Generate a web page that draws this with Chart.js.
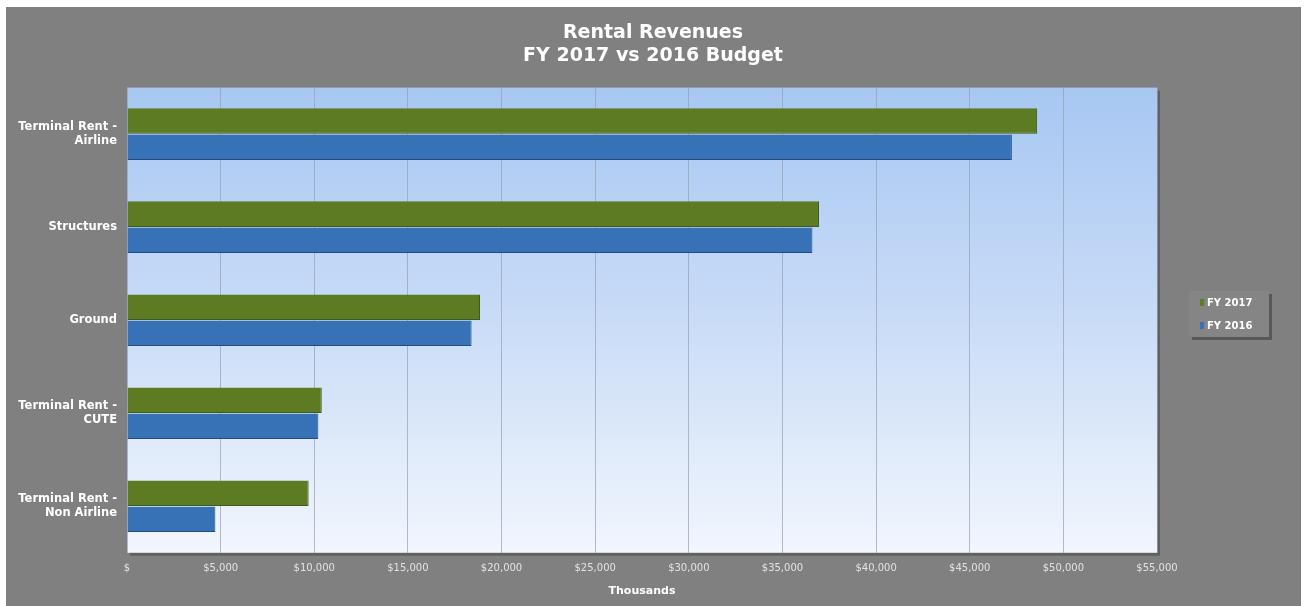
<!DOCTYPE html>
<html>
<head>
<meta charset="utf-8">
<style>
html,body{margin:0;padding:0;background:#fff;}
#wrap{width:1306px;height:606px;position:relative;}
</style>
<script src="https://cdn.jsdelivr.net/npm/chart.js@4/dist/chart.umd.min.js"></script>
</head>
<body>
<div id="wrap"><canvas id="c" width="1306" height="606"></canvas></div>
<script>
const categories = [["Terminal Rent -", "Airline"], "Structures", "Ground", ["Terminal Rent -", "CUTE"], ["Terminal Rent -", "Non Airline"]];
const fy2017 = [48600, 36950, 18850, 10400, 9700];
const fy2016 = [47250, 36600, 18400, 10220, 4720];
const seriesLabels = ["FY 2017", "FY 2016"];
const seriesColors = ["#5c7b22", "#3672b5"];
const tickLabels = ["$", "$5,000", "$10,000", "$15,000", "$20,000", "$25,000", "$30,000", "$35,000", "$40,000", "$45,000", "$50,000", "$55,000"];

function barGrad(ctx, top, mid, bottom) {
  const c = ctx.chart;
  const el = ctx.element;
  if (!c.chartArea || !el || el.y === undefined) return mid;
  const h = el.height || 25;
  const g = c.ctx.createLinearGradient(0, el.y - h / 2, 0, el.y + h / 2);
  g.addColorStop(0, top);
  g.addColorStop(0.18, mid);
  g.addColorStop(0.8, mid);
  g.addColorStop(1, bottom);
  return g;
}

const bgPlugin = {
  id: 'bg',
  beforeDraw(chart) {
    const ctx = chart.ctx;
    ctx.save();
    ctx.fillStyle = '#ffffff';
    ctx.fillRect(0, 0, chart.width, chart.height);
    ctx.fillStyle = '#808080';
    ctx.fillRect(6, 7, 1295, 599);
    const a = chart.chartArea;
    ctx.fillStyle = 'rgba(60,60,60,0.45)';
    ctx.fillRect(a.left + 3, a.top + 3, a.right - a.left, a.bottom - a.top);
    const g = ctx.createLinearGradient(0, a.top, 0, a.bottom);
    g.addColorStop(0, '#a7c7f2');
    g.addColorStop(0.5, '#c9dcf7');
    g.addColorStop(1, '#f2f6fd');
    ctx.fillStyle = g;
    ctx.fillRect(a.left, a.top, a.right - a.left, a.bottom - a.top);
    ctx.restore();
  },
  afterDraw(chart) {
    const ctx = chart.ctx;
    ctx.save();
    const bx = 1189, by = 291, bw = 80, bh = 46;
    ctx.fillStyle = 'rgba(55,55,55,0.55)';
    ctx.fillRect(bx + 3, by + 3, bw, bh);
    ctx.fillStyle = '#858585';
    ctx.fillRect(bx, by, bw, bh);
    ctx.font = 'bold 10px "DejaVu Sans"';
    ctx.textBaseline = 'middle';
    ctx.textAlign = 'left';
    chart.data.datasets.forEach((ds, i) => {
      const y = 303 + i * 23;
      ctx.fillStyle = seriesColors[i];
      ctx.fillRect(1200, y - 4, 4, 7);
      ctx.fillStyle = '#ffffff';
      ctx.fillText(ds.label, 1207, y);
    });
    ctx.restore();
  }
};

new Chart(document.getElementById('c'), {
  type: 'bar',
  data: {
    labels: categories,
    datasets: [
      {
        label: seriesLabels[0],
        data: fy2017,
        backgroundColor: (ctx) => barGrad(ctx, '#8cab4c', '#5c7b22', '#47611a'),
        borderColor: '#41591a',
        borderWidth: {right: 1, bottom: 1},
        borderSkipped: 'left',
        categoryPercentage: 0.56,
        barPercentage: 0.98,
        yAxisID: 'y'
      },
      {
        label: seriesLabels[1],
        data: fy2016,
        backgroundColor: (ctx) => barGrad(ctx, '#6eaae8', '#3672b5', '#2a5b94'),
        borderColor: '#234b80',
        borderWidth: {right: 1, bottom: 1},
        borderSkipped: 'left',
        categoryPercentage: 0.56,
        barPercentage: 0.98,
        yAxisID: 'y'
      }
    ]
  },
  options: {
    indexAxis: 'y',
    responsive: false,
    animation: false,
    layout: {padding: {left: 0, right: 0, top: 0, bottom: 8}},
    scales: {
      x: {
        min: 0, max: 55000,
        ticks: {
          stepSize: 5000,
          color: '#e2e2e2',
          font: {family: 'DejaVu Sans', size: 10},
          padding: 10,
          maxRotation: 0,
          callback: (v, i) => tickLabels[i]
        },
        grid: {color: 'rgba(150,160,180,0.7)', drawTicks: false, lineWidth: 1},
        border: {display: false},
        title: {display: true, text: 'Thousands', color: '#ffffff', font: {family: 'DejaVu Sans', size: 11, weight: 'bold'}, padding: {top: 0, bottom: 0}}
      },
      y: {
        ticks: {
          color: '#ffffff',
          font: {family: 'DejaVu Sans', size: 11.5, weight: 'bold'},
          padding: 2
        },
        grid: {display: false},
        border: {display: false},
        afterFit(s) { s.width = 127; }
      },
      y2: {
        position: 'right',
        display: true,
        ticks: {display: false},
        grid: {display: false},
        border: {display: false},
        afterFit(s) { s.width = 149; }
      }
    },
    plugins: {
      title: {
        display: true,
        text: ['Rental Revenues', 'FY 2017 vs 2016 Budget'],
        color: '#ffffff',
        font: {family: 'DejaVu Sans', size: 19, weight: 'bold'},
        lineHeight: 1.4,
        padding: {top: 22, bottom: 20}
      },
      legend: {display: false},
      tooltip: {enabled: false}
    }
  },
  plugins: [bgPlugin]
});
</script>
</body>
</html>
